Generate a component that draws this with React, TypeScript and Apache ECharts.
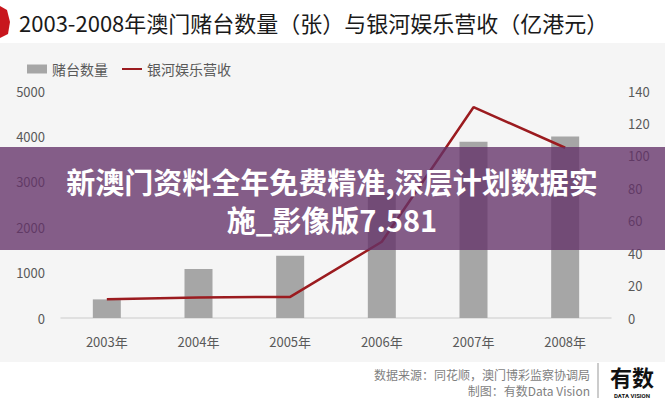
import React, { useEffect, useRef } from "react";
import * as echarts from "echarts";

const categories = ["2003年", "2004年", "2005年", "2006年", "2007年", "2008年"];
const tableCounts = [410, 1080, 1370, 2760, 3880, 4000];
const galaxyRevenue = [11.5, 12.7, 13, 47, 130, 105];
const barName = "赌台数量";
const lineName = "银河娱乐营收";
const titleText = "2003-2008年澳门赌台数量（张）与银河娱乐营收（亿港元）";
const overlayLine1 = "新澳门资料全年免费精准,深层计划数据实";
const overlayLine2 = "施_影像版7.581";
const sourceLine1 = "数据来源：同花顺，澳门博彩监察协调局";
const sourceLine2 = "制图：有数Data Vision";

const FONT = '"Noto Sans CJK SC", "Noto Sans", sans-serif';

export default function App() {
  const ref = useRef<HTMLDivElement>(null);
  useEffect(() => {
    document.body.style.margin = "0";
    const chart = echarts.init(ref.current!, null, { renderer: "svg" });
    chart.setOption({
      animation: false,
      backgroundColor: "#ffffff",
      textStyle: { fontFamily: FONT },
      title: {
        text: titleText,
        left: 14,
        top: 6,
        textStyle: { fontSize: 22, fontWeight: "normal", color: "#1a1a1a", fontFamily: FONT },
      },
      legend: {
        left: 22,
        top: 57,
        itemGap: 14,
        textStyle: { fontSize: 14, color: "#595959", fontFamily: FONT },
        data: [
          { name: barName, icon: "rect", itemStyle: { color: "#a6a6a6" } },
          {
            name: lineName,
            icon: "path://M0,0 M20,9 M0,3.5 L20,3.5 L20,5.5 L0,5.5 Z",
            itemStyle: { color: "#9b1b1f" },
          },
        ],
        itemWidth: 20,
        itemHeight: 9,
      },
      grid: { left: 61, right: 54, top: 91, bottom: 82 },
      xAxis: {
        type: "category",
        data: categories,
        axisTick: { show: false },
        axisLine: { lineStyle: { color: "#d9d9d9", width: 1.5 } },
        axisLabel: { fontSize: 13, color: "#595959", margin: 17, fontFamily: FONT },
      },
      yAxis: [
        {
          type: "value",
          min: 0,
          max: 5000,
          interval: 1000,
          splitLine: { show: false },
          axisLabel: {
            fontSize: 13,
            color: "#595959",
            margin: 16,
            fontFamily: FONT,
            formatter: (v: number) => String(v),
          },
        },
        {
          type: "value",
          min: 0,
          max: 140,
          interval: 20,
          splitLine: { show: false },
          axisLabel: { fontSize: 13, color: "#595959", margin: 17, fontFamily: FONT },
        },
      ],
      series: [
        {
          name: barName,
          type: "bar",
          data: tableCounts,
          barWidth: 28,
          itemStyle: { color: "#a6a6a6" },
          yAxisIndex: 0,
        },
        {
          name: lineName,
          type: "line",
          data: galaxyRevenue,
          yAxisIndex: 1,
          symbol: "none",
          lineStyle: { color: "#9b1b1f", width: 2.5 },
          itemStyle: { color: "#9b1b1f" },
        },
      ],
      graphic: [
        { type: "rect", z: -10, silent: true, shape: { x: 0, y: 43, width: 665, height: 319 }, style: { fill: "#f5f5f5" } },
        { type: "polygon", z: 10, shape: { points: [[0, 6], [7, 10], [10, 22], [8, 34], [0, 38]] }, style: { fill: "#c8161d" } },
        { type: "rect", z: 100, shape: { x: 0, y: 147, width: 665, height: 103 }, style: { fill: "rgba(100,50,105,0.78)" } },
        {
          type: "text", z: 101, x: 332, y: 181,
          style: { text: overlayLine1, fill: "#ffffff", fontSize: 29, lineHeight: 30, fontWeight: "bold", fontFamily: FONT, textAlign: "center", textVerticalAlign: "middle" },
        },
        {
          type: "text", z: 101, x: 332, y: 219,
          style: { text: overlayLine2, fill: "#ffffff", fontSize: 29, lineHeight: 30, fontWeight: "bold", fontFamily: FONT, textAlign: "center", textVerticalAlign: "middle" },
        },
        {
          type: "text", z: 10, x: 590, y: 374,
          style: { text: sourceLine1, fill: "#7f7f7f", fontSize: 12, fontFamily: FONT, textAlign: "right", textVerticalAlign: "middle" },
        },
        {
          type: "text", z: 10, x: 590, y: 390,
          style: { text: sourceLine2, fill: "#7f7f7f", fontSize: 12, fontFamily: FONT, textAlign: "right", textVerticalAlign: "middle" },
        },
        { type: "line", z: 10, shape: { x1: 598, y1: 363, x2: 598, y2: 398 }, style: { stroke: "#999999", lineWidth: 1 } },
        {
          type: "text", z: 10, x: 632, y: 376,
          style: { text: "有数", fill: "#111111", fontSize: 22, fontWeight: "bold", fontFamily: FONT, textAlign: "center", textVerticalAlign: "middle" },
        },
        {
          type: "text", z: 10, x: 632, y: 395,
          style: { text: "DATA VISION", fill: "#111111", fontSize: 6, fontWeight: "bold", fontFamily: "Roboto, sans-serif", textAlign: "center", textVerticalAlign: "middle" },
        },
      ],
    });
    return () => chart.dispose();
  }, []);
  return <div ref={ref} style={{ width: 665, height: 400 }} />;
}
